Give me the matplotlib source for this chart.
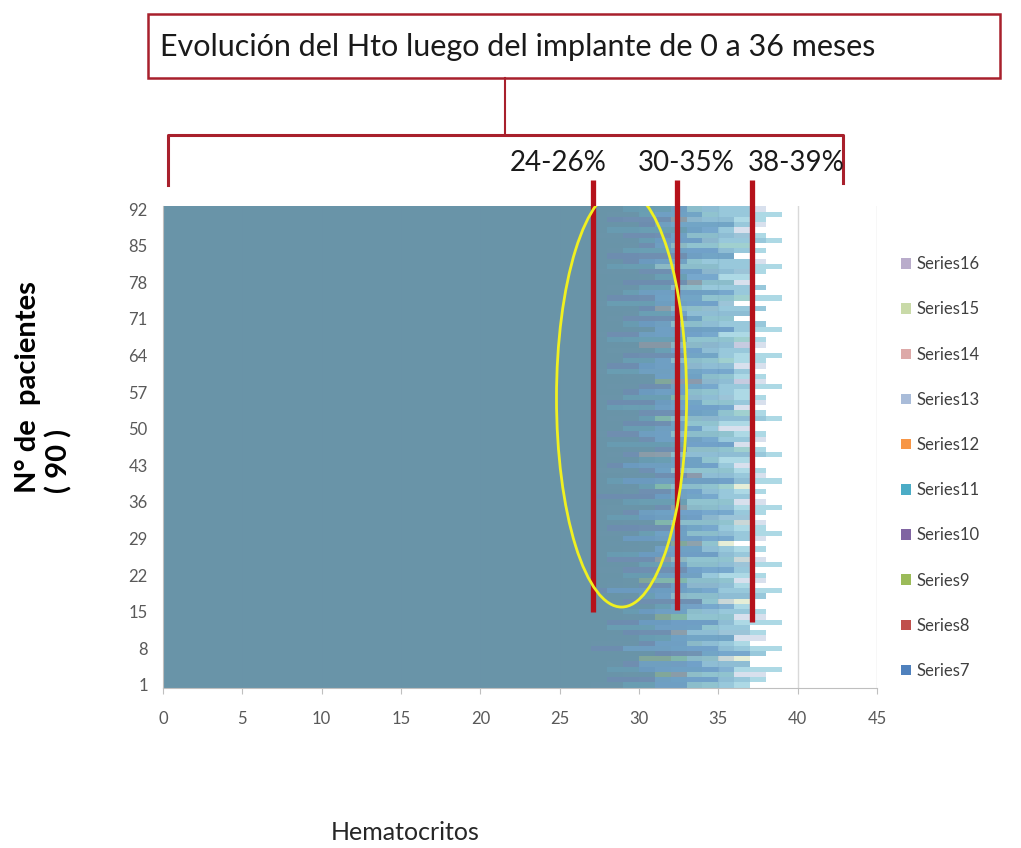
import numpy as np
import matplotlib
matplotlib.use('Agg')
import matplotlib.pyplot as plt
from matplotlib.patches import Rectangle, Ellipse, Patch
from matplotlib.lines import Line2D

plt.rcParams['font.family'] = ['Lato', 'DejaVu Sans']

# Hematocrit per patient (1..92), one list per series
s7 = [33, 35, 31, 36, 34, 30, 37, 35, 33, 36,
      32, 34, 35, 31, 33, 36, 34, 32, 35, 33,
      30, 34, 36, 33, 31, 35, 34, 32, 36, 33,
      35, 31, 34, 36, 32, 33, 35, 34, 31, 36,
      33, 32, 35, 34, 30, 33, 36, 35, 32, 34,
      33, 31, 35, 36, 34, 32, 33, 35, 31, 34,
      36, 33, 32, 35, 34, 30, 33, 35, 36, 32,
      34, 33, 31, 35, 34, 36, 32, 33, 35, 34,
      31, 33, 36, 35, 32, 34, 33, 35, 36, 32,
      34, 33]
s8 = [29, 31, 33, 28, 30, 32, 34, 29, 31, 30,
      33, 28, 30, 32, 29, 31, 34, 30, 28, 32,
      31, 29, 33, 30, 32, 28, 31, 34, 29, 30,
      32, 31, 28, 30, 33, 29, 31, 32, 30, 28,
      34, 31, 29, 30, 32, 33, 28, 31, 30, 29,
      32, 30, 33, 28, 31, 29, 30, 32, 34, 31,
      28, 30, 29, 33, 31, 32, 28, 30, 31, 29,
      33, 30, 32, 28, 31, 29, 30, 34, 31, 32,
      28, 30, 33, 29, 31, 30, 32, 28, 31, 33,
      30, 29]
s9 = [31, 28, 32, 30, 29, 33, 31, 27, 30, 32,
      29, 31, 28, 33, 30, 32, 29, 31, 27, 30,
      33, 31, 29, 32, 28, 30, 31, 33, 29, 31,
      28, 32, 30, 29, 31, 33, 27, 30, 32, 29,
      31, 30, 28, 32, 29, 31, 33, 30, 28, 31,
      29, 32, 30, 31, 28, 33, 29, 30, 32, 31,
      30, 28, 31, 29, 32, 30, 33, 28, 31, 30,
      29, 32, 30, 31, 28, 30, 32, 29, 33, 30,
      31, 29, 28, 32, 30, 31, 29, 33, 30, 28,
      31, 32]
s10 = [27, 30, 29, 31, 28, 30, 32, 29, 27, 31,
       30, 28, 32, 29, 31, 27, 30, 29, 32, 28,
       29, 31, 27, 30, 28, 32, 29, 30, 31, 27,
       30, 29, 31, 28, 27, 30, 32, 29, 28, 31,
       29, 27, 30, 31, 28, 29, 32, 30, 27, 29,
       31, 28, 30, 29, 32, 27, 31, 28, 30, 29,
       27, 31, 29, 30, 28, 32, 29, 27, 30, 31,
       28, 29, 31, 27, 30, 29, 28, 32, 30, 27,
       29, 31, 30, 28, 29, 32, 27, 30, 31, 29,
       28, 30]
s11 = [37, 38, 36, 39, 37, 35, 38, 39, 37, 36,
       38, 37, 39, 36, 38, 37, 35, 38, 39, 37,
       36, 38, 37, 39, 36, 37, 38, 35, 37, 39,
       38, 36, 37, 38, 39, 36, 37, 38, 36, 39,
       37, 38, 36, 37, 39, 38, 36, 37, 38, 35,
       37, 39, 38, 36, 37, 38, 37, 39, 36, 38,
       37, 36, 38, 39, 37, 36, 38, 37, 39, 38,
       36, 37, 38, 36, 39, 37, 38, 36, 37, 38,
       39, 37, 36, 38, 37, 39, 38, 36, 37, 38,
       39, 37]
s12 = [30, 32, 28, 31, 33, 29, 30, 32, 31, 28,
       32, 30, 29, 33, 31, 28, 32, 30, 31, 29,
       28, 32, 30, 31, 33, 29, 30, 28, 32, 31,
       29, 30, 33, 31, 28, 32, 30, 29, 31, 33,
       30, 28, 32, 31, 29, 30, 33, 28, 31, 32,
       30, 31, 29, 28, 32, 30, 31, 33, 29, 30,
       32, 29, 31, 30, 28, 33, 30, 31, 29, 32,
       31, 30, 28, 32, 29, 31, 30, 33, 28, 30,
       32, 31, 29, 30, 33, 28, 31, 30, 32, 29,
       30, 31]
s13 = [36, 37, 38, 35, 37, 36, 38, 37, 36, 38,
       35, 37, 36, 38, 37, 35, 36, 38, 37, 36,
       38, 35, 37, 36, 38, 37, 36, 35, 38, 37,
       36, 38, 35, 37, 36, 38, 37, 36, 35, 37,
       38, 36, 37, 35, 38, 36, 37, 38, 36, 37,
       35, 38, 36, 37, 38, 35, 36, 37, 38, 36,
       37, 38, 35, 36, 37, 38, 36, 35, 37, 38,
       36, 37, 38, 35, 36, 37, 38, 37, 35, 36,
       37, 38, 36, 37, 35, 38, 36, 37, 38, 36,
       37, 38]
s14 = [33, 31, 34, 32, 30, 35, 33, 31, 34, 32,
       30, 33, 35, 31, 32, 34, 30, 33, 31, 35,
       32, 34, 31, 30, 33, 35, 32, 31, 34, 30,
       33, 32, 35, 31, 34, 30, 33, 32, 31, 35,
       34, 30, 32, 33, 31, 35, 30, 34, 32, 31,
       33, 35, 31, 32, 30, 34, 33, 31, 35, 32,
       30, 34, 32, 33, 31, 35, 30, 32, 34, 31,
       33, 30, 35, 32, 31, 34, 33, 30, 32, 35,
       31, 33, 34, 30, 32, 35, 31, 33, 30, 34,
       32, 33]
s15 = [35, 33, 36, 34, 32, 37, 35, 33, 34, 36,
       33, 35, 32, 36, 34, 33, 37, 35, 34, 32,
       36, 34, 33, 35, 37, 32, 34, 36, 33, 35,
       34, 37, 33, 32, 35, 36, 34, 33, 37, 35,
       32, 36, 34, 35, 33, 37, 32, 34, 36, 33,
       35, 34, 37, 32, 36, 33, 35, 34, 32, 36,
       34, 33, 36, 35, 32, 34, 37, 33, 35, 34,
       36, 32, 34, 33, 37, 35, 34, 36, 33, 32,
       35, 34, 36, 33, 37, 32, 35, 34, 36, 33,
       35, 34]
s16 = [34, 36, 33, 35, 37, 34, 32, 36, 35, 33,
       37, 34, 36, 33, 35, 32, 34, 37, 33, 36,
       35, 33, 34, 37, 32, 36, 35, 33, 34, 36,
       33, 35, 37, 34, 36, 33, 32, 35, 34, 37,
       36, 33, 35, 34, 37, 32, 36, 33, 35, 34,
       32, 37, 34, 35, 33, 36, 34, 32, 37, 35,
       33, 36, 34, 32, 35, 37, 33, 34, 36, 35,
       34, 37, 33, 36, 32, 35, 34, 36, 33, 37,
       35, 32, 34, 36, 33, 35, 37, 34, 32, 36,
       33, 35]

series = {'Series7': s7, 'Series8': s8, 'Series9': s9, 'Series10': s10,
          'Series11': s11, 'Series12': s12, 'Series13': s13,
          'Series14': s14, 'Series15': s15, 'Series16': s16}
colors = {'Series7': '#4F81BD', 'Series8': '#C0504D', 'Series9': '#9BBB59',
          'Series10': '#8064A2', 'Series11': '#4BACC6', 'Series12': '#F79646',
          'Series13': '#A9BCD9', 'Series14': '#DDA9A8', 'Series15': '#C9DAA8',
          'Series16': '#B9ACCB'}
# painting order: the blue-ish series end up on top, like in the picture
draw_order = ['Series12', 'Series14', 'Series16', 'Series10', 'Series15',
              'Series13', 'Series8', 'Series9', 'Series11', 'Series7']

patients = np.arange(1, 93)
ytick_vals = [1, 8, 15, 22, 29, 36, 43, 50, 57, 64, 71, 78, 85, 92]

# reference ranges marked on the chart
ranges = ['24-26%', '30-35%', '38-39%']
range_x = [27.1, 32.4, 37.1]
range_bottom = [15.0, 15.4, 13.0]

W, H = 1021, 848
fig = plt.figure(figsize=(W / 100, H / 100), dpi=100)
ax = fig.add_axes([163 / W, 1 - 687.6 / H, 714 / W, (687.6 - 206.4) / H])

# overlapping bars (Excel overlap 100%), semi transparent
for name in draw_order:
    ax.barh(patients, series[name], height=1.0, color=colors[name],
            alpha=0.45, linewidth=0, zorder=2)

ax.set_xlim(0, 45)
ax.set_ylim(0.5, 92.5)
ax.set_xticks(np.arange(0, 46, 5))
ax.set_yticks(ytick_vals)
ax.grid(axis='x', color='#D9D9D9', linewidth=1, zorder=0)
ax.set_axisbelow(True)
for sp in ['top', 'right']:
    ax.spines[sp].set_visible(False)
for sp in ['left', 'bottom']:
    ax.spines[sp].set_color('#BFBFBF')
ax.tick_params(axis='x', colors='#BFBFBF', labelcolor='#595959',
               labelsize=12, length=4, pad=13)
ax.tick_params(axis='y', colors='#BFBFBF', labelcolor='#595959',
               labelsize=12, length=0, pad=11)

# red range markers
for xv, yb in zip(range_x, range_bottom):
    ax.plot([xv, xv], [yb, 97.5], color='#B5121B', linewidth=3.8,
            solid_capstyle='butt', clip_on=False, zorder=5)

# yellow ellipse around the 24-33 zone
ax.add_patch(Ellipse((28.9, 55.9), 8.2, 80, fill=False, edgecolor='#F0F020',
                     linewidth=2, zorder=6))

# legend, reversed order like Excel
names = list(series.keys())[::-1]
handles = [Patch(facecolor=colors[n], edgecolor='none', label=n) for n in names]
fig.legend(handles=handles, loc='upper left',
           bbox_to_anchor=(893 / W, 1 - 248 / H), frameon=False,
           fontsize=12, labelspacing=1.75, handlelength=0.6,
           handleheight=0.6, handletextpad=0.3, borderpad=0,
           labelcolor='#404040')


def fx(px):
    return px / W


def fy(py):
    return 1 - py / H


# title box and connector bracket
red = '#A8202C'
fig.add_artist(Rectangle((fx(148), fy(78)), fx(1000) - fx(148), fy(14) - fy(78),
                         fill=False, edgecolor=red, linewidth=1.8,
                         transform=fig.transFigure))
fig.text(fx(160), fy(47), 'Evolución del Hto luego del implante de 0 a 36 meses',
         fontsize=22, color='#1A1A1A', va='center', ha='left')
fig.add_artist(Line2D([fx(505), fx(505)], [fy(78), fy(135)], color=red,
                      linewidth=1.5, transform=fig.transFigure))
fig.add_artist(Line2D([fx(168), fx(168), fx(843), fx(843)],
                      [fy(185), fy(135), fy(135), fy(183)], color=red,
                      linewidth=2.2, transform=fig.transFigure))

for lab, cx in zip(ranges, [558, 686, 796]):
    fig.text(fx(cx), fy(163), lab, fontsize=20, color='#1A1A1A',
             ha='center', va='center')

fig.text(fx(44), fy(387), 'N° de  pacientes\n( 90 )', rotation=90,
         fontsize=21, fontweight='bold', ha='center', va='center',
         multialignment='left', linespacing=1.2, color='#000000')
fig.text(fx(405), fy(832), 'Hematocritos', fontsize=18, color='#262626',
         ha='center', va='center')

fig.savefig('out.png', dpi=100)
